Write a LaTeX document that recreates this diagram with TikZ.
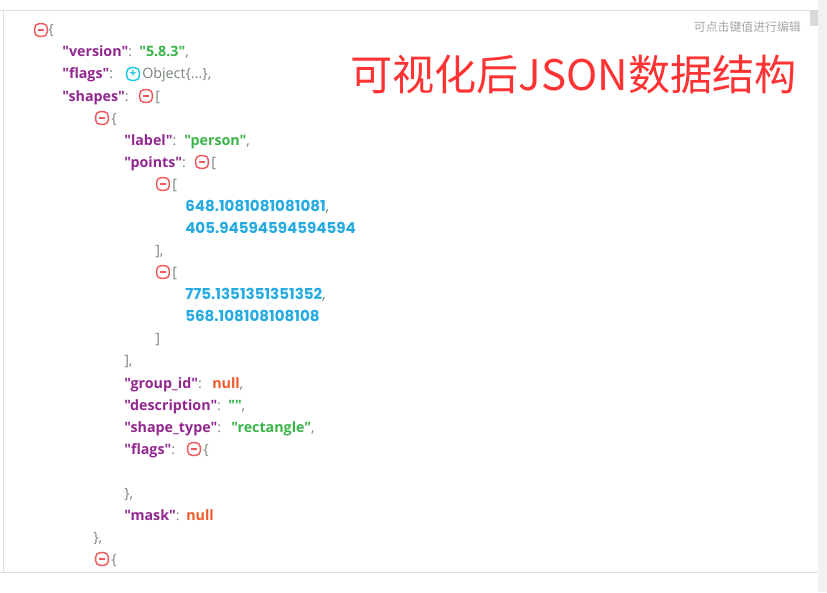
\documentclass[tikz,border=0pt]{standalone}
\usepackage{fontspec}
\setmainfont{Open Sans}[Ligatures=TeXOff]
\newfontfamily\cjkfont{Noto Sans CJK SC}
\newfontfamily\numfont{Poppins}
\definecolor{keycol}{HTML}{92278F}
\definecolor{strcol}{HTML}{3AB54A}
\definecolor{numcol}{HTML}{25AAE1}
\definecolor{nullcol}{HTML}{F1592A}
\definecolor{puncol}{HTML}{7A857A}
\definecolor{minuscol}{HTML}{EF5A5F}
\definecolor{pluscol}{HTML}{1CC8E3}
\definecolor{rulecol}{HTML}{DEDEDE}
\newcommand{\kcolon}{\textcolor{puncol}{\mdseries:}}
\newcommand{\kcomma}{\textcolor{puncol}{\mdseries,}}
\newcommand{\minusbar}{\rule{4.2pt}{1.2pt}}
\tikzset{
  txt/.style={anchor=base west, inner sep=0pt, font=\fontsize{10.7pt}{12pt}\selectfont},
  key/.style={txt, text=keycol, font=\fontsize{10.7pt}{12pt}\selectfont\bfseries},
  strval/.style={key, text=strcol},
  numval/.style={key, text=numcol, font=\numfont\fontsize{11.3pt}{12pt}\selectfont\bfseries},
  nullval/.style={key, text=nullcol},
  punct/.style={txt, text=puncol},
  minusbox/.style={draw=minuscol, text=minuscol, line width=1.1pt, rounded corners=3.5pt, minimum size=9.6pt, inner sep=0pt, font=\fontsize{9pt}{9pt}\selectfont\bfseries},
  plusbox/.style={minusbox, draw=pluscol, text=pluscol}
}
\begin{document}
\begin{tikzpicture}[x=0.75pt, y=-0.75pt]
  \useasboundingbox (0, 0) rectangle (827, 592);
  % Frame
  \fill[white] (0, 0) rectangle (827, 592);
  \fill[black!5] (818, 0) rectangle (827, 592);
  \fill[black!15] (810, 10) rectangle (818, 26);
  \draw[rulecol] (0, 10.5) -- (810, 10.5);
  \draw[rulecol] (3.5, 10.5) -- (3.5, 572);
  \draw[rulecol] (0, 572.5) -- (818, 572.5);

  % Captions
  \node[anchor=east, inner sep=0pt, text=black!35, font=\cjkfont\fontsize{8.9pt}{10pt}\selectfont] (hint) at (801, 27) {可点击键值进行编辑};
  \node[anchor=west, inner sep=0pt, text=red!80!white, font=\cjkfont\fontsize{31.6pt}{34pt}\selectfont] (title) at (350, 75) {可视化后JSON数据结构};

  % Top level
  \node[minusbox] (rootbox) at (41, 30) {\minusbar};
  \node[punct] (rootopen) at (48, 35) {\{};
  \node[key] (versionkey) at (62, 57) {"version"\kcolon};
  \node[strval] (versionval) at (139, 57) {"5.8.3"\kcomma};
  \node[key] (flagskey) at (62, 79) {"flags"\kcolon};
  \node[plusbox] (flagsbox) at (133, 74) {+};
  \node[punct] (flagsval) at (142, 79) {Object\{...\},};
  \node[key] (shapeskey) at (62, 101) {"shapes"\kcolon};
  \node[minusbox] (shapesbox) at (146, 96) {\minusbar};
  \node[punct] (shapesopen) at (155, 101) {[};

  % First shape
  \node[minusbox] (shapebox) at (102, 118) {\minusbar};
  \node[punct] (shapeopen) at (111, 123) {\{};
  \node[key] (labelkey) at (124, 145) {"label"\kcolon};
  \node[strval] (labelval) at (184, 145) {"person"\kcomma};
  \node[key] (pointskey) at (124, 167) {"points"\kcolon};
  \node[minusbox] (pointsbox) at (202, 162) {\minusbar};
  \node[punct] (pointsopen) at (211, 167) {[};

  % Points
  \node[minusbox] (ptabox) at (163, 184) {\minusbar};
  \node[punct] (ptaopen) at (172, 189) {[};
  \node[numval] (ptax) at (185, 211) {648.1081081081081\kcomma};
  \node[numval] (ptay) at (185, 233) {405.94594594594594};
  \node[punct] (ptaclose) at (155, 255) {],};
  \node[minusbox] (ptbbox) at (163, 272) {\minusbar};
  \node[punct] (ptbopen) at (172, 277) {[};
  \node[numval] (ptbx) at (185, 299) {775.1351351351352\kcomma};
  \node[numval] (ptby) at (185, 321) {568.108108108108};
  \node[punct] (ptbclose) at (155, 343) {]};
  \node[punct] (pointsclose) at (124, 365) {],};

  % Remaining keys
  \node[key] (groupkey) at (124, 388) {"group\_id"\kcolon};
  \node[nullval] (groupval) at (212, 388) {null\kcomma};
  \node[key] (desckey) at (124, 410) {"description"\kcolon};
  \node[strval] (descval) at (228, 410) {""\kcomma};
  \node[key] (typekey) at (124, 432) {"shape\_type"\kcolon};
  \node[strval] (typeval) at (231, 432) {"rectangle"\kcomma};
  \node[key] (innerkey) at (124, 454) {"flags"\kcolon};
  \node[minusbox] (innerbox) at (194, 449) {\minusbar};
  \node[punct] (inneropen) at (203, 454) {\{};
  \node[punct] (innerclose) at (124, 498) {\},};
  \node[key] (maskkey) at (124, 520) {"mask"\kcolon};
  \node[nullval] (maskval) at (186, 520) {null};
  \node[punct] (shapeclose) at (93, 542) {\},};

  % Second shape
  \node[minusbox] (nextbox) at (102, 559) {\minusbar};
  \node[punct] (nextopen) at (111, 564) {\{};
\end{tikzpicture}
\end{document}
